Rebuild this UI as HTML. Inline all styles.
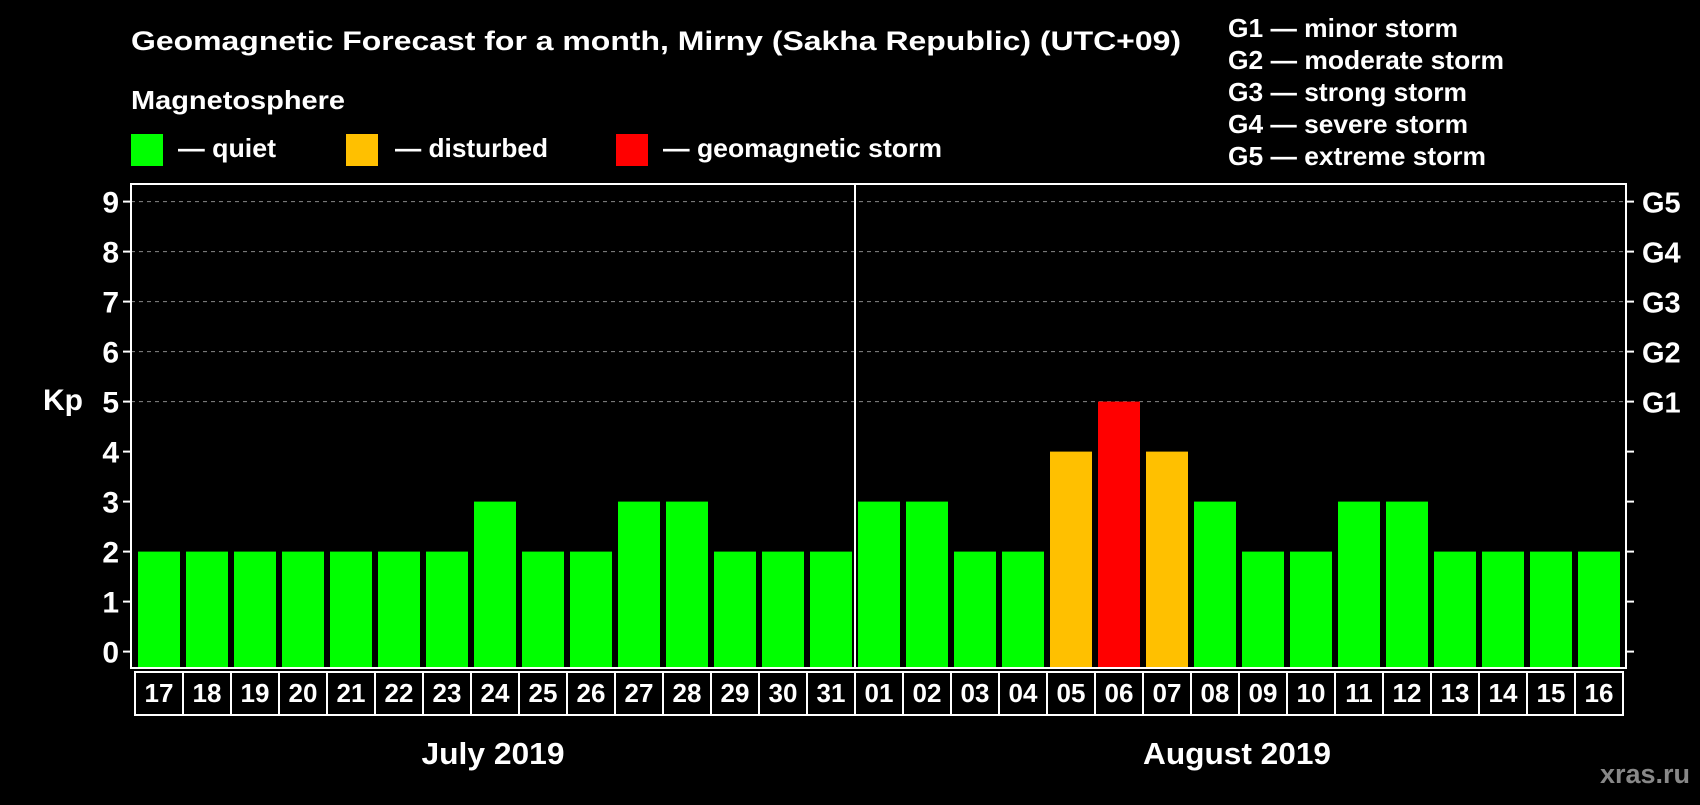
<!DOCTYPE html>
<html><head><meta charset="utf-8"><style>
body{margin:0;background:#000;width:1700px;height:800px;overflow:hidden}
svg text{font-family:"Liberation Sans",Arial,sans-serif;font-weight:bold;fill:#fff}
</style></head><body>
<svg id="chart" width="1700" height="800" xmlns="http://www.w3.org/2000/svg">
<rect width="1700" height="800" fill="#000"/>
<text x="131" y="50" font-size="27" textLength="1050" lengthAdjust="spacingAndGlyphs">Geomagnetic Forecast for a month, Mirny (Sakha Republic) (UTC+09)</text>
<text x="131" y="109" font-size="26" textLength="214" lengthAdjust="spacingAndGlyphs">Magnetosphere</text>
<g><rect x="131" y="134" width="32" height="32" fill="#00ff00"/><text x="178" y="157" font-size="26" textLength="98" lengthAdjust="spacingAndGlyphs">— quiet</text></g>
<g><rect x="346" y="134" width="32" height="32" fill="#ffc000"/><text x="395" y="157" font-size="26" textLength="153" lengthAdjust="spacingAndGlyphs">— disturbed</text></g>
<g><rect x="616" y="134" width="32" height="32" fill="#ff0000"/><text x="663" y="157" font-size="26" textLength="279" lengthAdjust="spacingAndGlyphs">— geomagnetic storm</text></g>
<g font-size="26">
<text x="1228" y="37" textLength="230" lengthAdjust="spacingAndGlyphs">G1 — minor storm</text>
<text x="1228" y="69" textLength="276" lengthAdjust="spacingAndGlyphs">G2 — moderate storm</text>
<text x="1228" y="101" textLength="239" lengthAdjust="spacingAndGlyphs">G3 — strong storm</text>
<text x="1228" y="133" textLength="240" lengthAdjust="spacingAndGlyphs">G4 — severe storm</text>
<text x="1228" y="165" textLength="258" lengthAdjust="spacingAndGlyphs">G5 — extreme storm</text>
</g>
<text x="43" y="410" font-size="30">Kp</text>
<g id="plot"></g>
<text x="493" y="764" font-size="31" text-anchor="middle" textLength="143" lengthAdjust="spacingAndGlyphs">July 2019</text>
<text x="1237" y="764" font-size="31" text-anchor="middle" textLength="188" lengthAdjust="spacingAndGlyphs">August 2019</text>
<text x="1690" y="783" font-size="27" text-anchor="end" style="fill:#888">xras.ru</text>
</svg>
<script>
const days=["17","18","19","20","21","22","23","24","25","26","27","28","29","30","31","01","02","03","04","05","06","07","08","09","10","11","12","13","14","15","16"];
const kpValues=[2,2,2,2,2,2,2,3,2,2,3,3,2,2,2,3,3,2,2,4,5,4,3,2,2,3,3,2,2,2,2];
const yTicks=[0,1,2,3,4,5,6,7,8,9];
const gLabels=["G1","G2","G3","G4","G5"];
const gLevels=[5,6,7,8,9];
const NS="http://www.w3.org/2000/svg";
const plot=document.getElementById('plot');
const L=131,R=1626,T=184,B=668,y0=651.6,unit=50,x0=138,pitch=48,bw=42;
const y=v=>y0-v*unit;
const x=i=>x0+i*pitch;
function mk(tag,a){const e=document.createElementNS(NS,tag);for(const k in a)e.setAttribute(k,a[k]);plot.appendChild(e);return e;}
yTicks.forEach(t=>{
 if(t>=5){const g=mk('line',{x1:L,x2:R,y1:y(t),y2:y(t),stroke:'#888','stroke-dasharray':'4,4','stroke-width':1});
 
 }
 const tk=mk('line',{x1:L-8,x2:L,y1:y(t),y2:y(t),stroke:'#fff','stroke-width':2});
 
 
 const tr=mk('line',{x1:R,x2:R+8,y1:y(t),y2:y(t),stroke:'#fff','stroke-width':2});
 
 
 const tx=mk('text',{x:L-12,y:y(t)+11,'font-size':30,'text-anchor':'end'});tx.textContent=t;
 
 
});
gLevels.forEach((lv,i)=>{const tx=mk('text',{x:R+16,y:y(lv)+11,'font-size':29});tx.textContent=gLabels[i];
 
 });
kpValues.forEach((v,i)=>{
 const c=v>=5?'#ff0000':(v>=4?'#ffc000':'#00ff00');
 const r=mk('rect',{x:x(i),y:y(v),width:bw,height:B-y(v)-1,fill:c});
 
 
 const bx=mk('rect',{x:x(i)-3,y:B+4,width:pitch,height:715-B-4,fill:'none',stroke:'#fff','stroke-width':2});
 
 
 const t=mk('text',{x:x(i)+bw/2,y:702,'font-size':26,'text-anchor':'middle'});t.textContent=days[i];
 
 
});
const fr=mk('rect',{x:L,y:T,width:R-L,height:B-T,fill:'none',stroke:'#fff','stroke-width':2});


const dv=mk('line',{x1:x(15)-3,x2:x(15)-3,y1:T,y2:B,stroke:'#fff','stroke-width':2});


</script>
</body></html>
